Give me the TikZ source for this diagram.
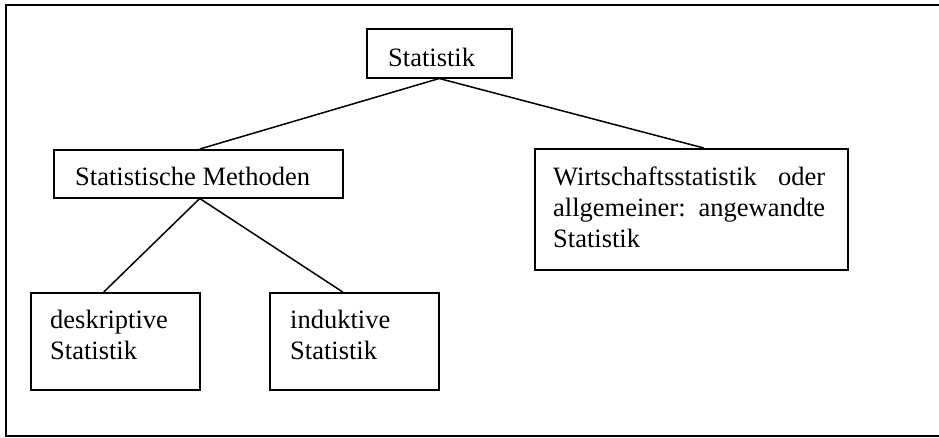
\documentclass[tikz,border=0pt]{standalone}
\usepackage{fontspec}
\setmainfont{Liberation Serif}
\begin{document}
\begin{tikzpicture}[x=1pt,y=-1pt,
  box/.style={draw, line width=1.5pt, rectangle, inner sep=0pt, anchor=north west},
  txt/.style={inner sep=0pt, anchor=base west, align=left, font=\fontsize{26.5}{31}\selectfont},
  conn/.style={line width=1.5pt}]
\useasboundingbox (0,0) rectangle (939,437);
% frame
\coordinate (f1) at (945,5);
\coordinate (f2) at (6,5);
\coordinate (f3) at (6,436);
\coordinate (f4) at (945,436);
\draw[line width=1.6pt] (f1) -- (f2) -- (f3) -- (f4);
% boxes
\node[box, minimum width=145pt, minimum height=49pt] (S) at (366,28) {};
\node[box, minimum width=289pt, minimum height=48pt] (SM) at (53,149) {};
\node[box, minimum width=313pt, minimum height=121pt] (W) at (534,148) {};
\node[box, minimum width=169pt, minimum height=97pt] (D) at (30,292) {};
\node[box, minimum width=169pt, minimum height=97pt] (I) at (269,292) {};
% texts
\node[txt] (tS) at ([shift={(22pt,-38pt)}]S.north west) {Statistik};
\node[txt] (tSM) at ([shift={(22pt,-36pt)}]SM.north west) {Statistische Methoden};
\node[txt, text width=272pt] (tW) at ([shift={(19pt,-37pt)}]W.north west) {Wirtschaftsstatistik\hfill oder\\allgemeiner:\hfill angewandte\\Statistik};
\node[txt, text width=140pt] (tD) at ([shift={(20pt,-36pt)}]D.north west) {deskriptive\\Statistik};
\node[txt, text width=140pt] (tI) at ([shift={(21pt,-36pt)}]I.north west) {induktive\\Statistik};
% connectors
\draw[conn] (S.south) -- ([xshift=1.5pt]SM.north);
\draw[conn] (S.south) -- ([xshift=12.5pt]W.north);
\draw[conn] ([xshift=1.5pt]SM.south) -- ([xshift=-11.5pt]D.north);
\draw[conn] ([xshift=1.5pt]SM.south) -- ([xshift=-11.5pt]I.north);
\end{tikzpicture}
\end{document}
